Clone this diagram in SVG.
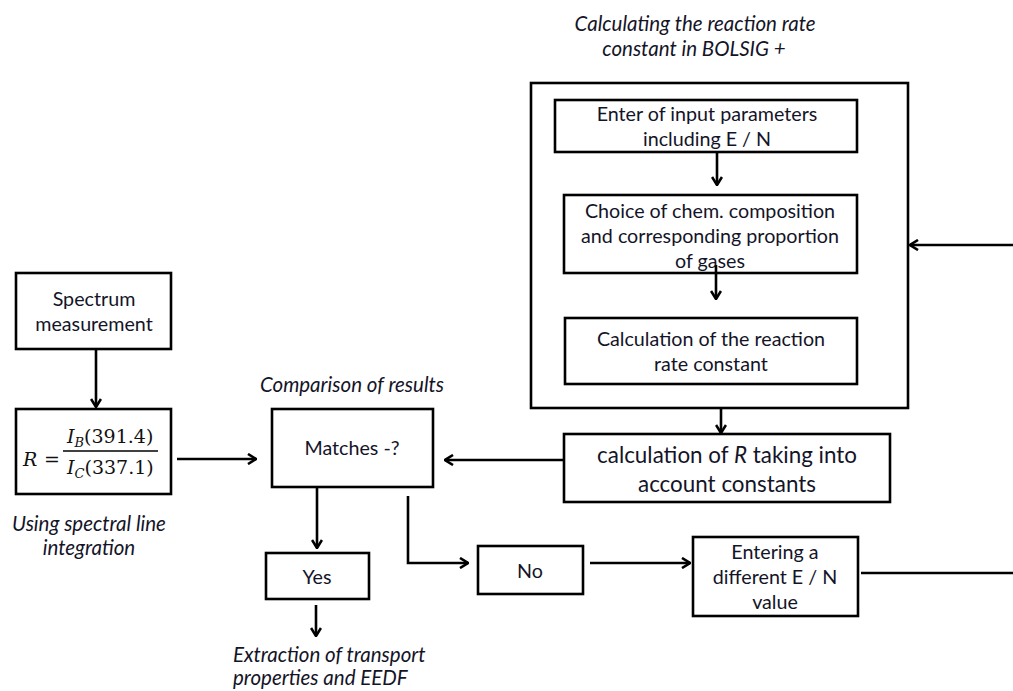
<svg xmlns="http://www.w3.org/2000/svg" width="1013" height="691" viewBox="0 0 1013 691">
<defs>
<marker id="arr" viewBox="0 0 10 12" refX="9" refY="6" markerWidth="10" markerHeight="12" markerUnits="userSpaceOnUse" orient="auto">
<path d="M1,1 L9,6 L1,11" fill="none" stroke="#000" stroke-width="2.6"/>
</marker>
<style>
.box{fill:#fff;stroke:#000;stroke-width:2.6}
.ln{fill:none;stroke:#000;stroke-width:2.6}
.t{font-family:Lato,"Open Sans","Liberation Sans",sans-serif;font-size:19.7px;fill:#141428;text-anchor:middle}
.it{font-family:Lato,"Open Sans","Liberation Sans",sans-serif;font-size:20.5px;font-style:italic;fill:#141428;text-anchor:middle}
.big{font-size:22.4px}
.m{font-family:"DejaVu Serif","Liberation Serif",serif;font-size:19px;fill:#111}
</style>
</defs>
<rect width="1013" height="691" fill="#fff"/>

<g id="title">
<text class="it" x="695" y="31">Calculating the reaction rate</text>
<text class="it" x="694" y="56">constant in BOLSIG +</text>
</g>

<g id="bolsig">
<rect class="box" x="531" y="83" width="377" height="325"/>
</g>
<g id="enter-params">
<rect class="box" x="555" y="100" width="302" height="52"/>
<text class="t" x="707" y="121">Enter of input parameters</text>
<text class="t" x="707" y="146">including E / N</text>
</g>
<g id="choice">
<rect class="box" x="564" y="195" width="293" height="78"/>
<text class="t" x="710" y="218">Choice of chem. composition</text>
<text class="t" x="710" y="243">and corresponding proportion</text>
<text class="t" x="710" y="268">of gases</text>
</g>
<g id="calc-k">
<rect class="box" x="565" y="318" width="292" height="66"/>
<text class="t" x="711" y="346">Calculation of the reaction</text>
<text class="t" x="711" y="371">rate constant</text>
</g>

<g id="spectrum">
<rect class="box" x="16" y="273" width="155" height="76"/>
<text class="t" x="94" y="306">Spectrum</text>
<text class="t" x="94" y="331">measurement</text>
</g>

<g id="formula">
<rect class="box" x="16" y="409" width="155" height="85"/>
<text class="m" x="23" y="466" font-size="21" font-style="italic">R</text>
<text class="m" x="44" y="466" font-size="21">=</text>
<line x1="63" y1="451" x2="158" y2="451" stroke="#000" stroke-width="1.3"/>
<text class="m" x="67" y="443"><tspan font-style="italic">I</tspan><tspan font-style="italic" font-size="13" dy="4">B</tspan><tspan dy="-4">(391.4)</tspan></text>
<text class="m" x="67" y="474"><tspan font-style="italic">I</tspan><tspan font-style="italic" font-size="13" dy="4">C</tspan><tspan dy="-4">(337.1)</tspan></text>
</g>
<g id="note-spectral">
<text class="it" x="89" y="531">Using spectral line</text>
<text class="it" x="89" y="555">integration</text>
</g>

<g id="comparison-label">
<text class="it" x="352" y="392">Comparison of results</text>
</g>
<g id="matches">
<rect class="box" x="272" y="409" width="161" height="78"/>
<text class="t" x="352" y="455">Matches -?</text>
</g>

<g id="calc-r">
<rect class="box" x="564" y="434" width="326" height="68"/>
<text class="t big" x="727" y="463">calculation of <tspan font-style="italic">R</tspan> taking into</text>
<text class="t big" x="727" y="492">account constants</text>
</g>

<g id="yes">
<rect class="box" x="266" y="553" width="103" height="46"/>
<text class="t" x="317" y="584">Yes</text>
</g>
<g id="no">
<rect class="box" x="478" y="546" width="105" height="48"/>
<text class="t" x="530" y="578">No</text>
</g>
<g id="entering">
<rect class="box" x="693" y="537" width="165" height="79"/>
<text class="t" x="775" y="559">Entering a</text>
<text class="t" x="775" y="584">different E / N</text>
<text class="t" x="775" y="609">value</text>
</g>
<g id="extraction">
<text class="it" x="233" y="662" style="text-anchor:start">Extraction of transport</text>
<text class="it" x="233" y="685" style="text-anchor:start">properties and EEDF</text>
</g>

<g id="connectors">
<line class="ln" x1="717" y1="152" x2="717" y2="185" marker-end="url(#arr)"/>
<line class="ln" x1="716" y1="265" x2="716" y2="299" marker-end="url(#arr)"/>
<line class="ln" x1="1013" y1="245" x2="910" y2="245" marker-end="url(#arr)"/>
<line class="ln" x1="721" y1="408" x2="721" y2="433" marker-end="url(#arr)"/>
<line class="ln" x1="96" y1="349" x2="96" y2="407" marker-end="url(#arr)"/>
<line class="ln" x1="177" y1="459" x2="256" y2="459" marker-end="url(#arr)"/>
<line class="ln" x1="564" y1="460" x2="445" y2="460" marker-end="url(#arr)"/>
<line class="ln" x1="317" y1="487" x2="317" y2="548" marker-end="url(#arr)"/>
<polyline class="ln" points="408,496 408,563 468,563" marker-end="url(#arr)"/>
<line class="ln" x1="590" y1="563" x2="690" y2="563" marker-end="url(#arr)"/>
<line class="ln" x1="861" y1="573" x2="1013" y2="573"/>
<line class="ln" x1="316" y1="605" x2="316" y2="636" marker-end="url(#arr)"/>
</g>
</svg>
